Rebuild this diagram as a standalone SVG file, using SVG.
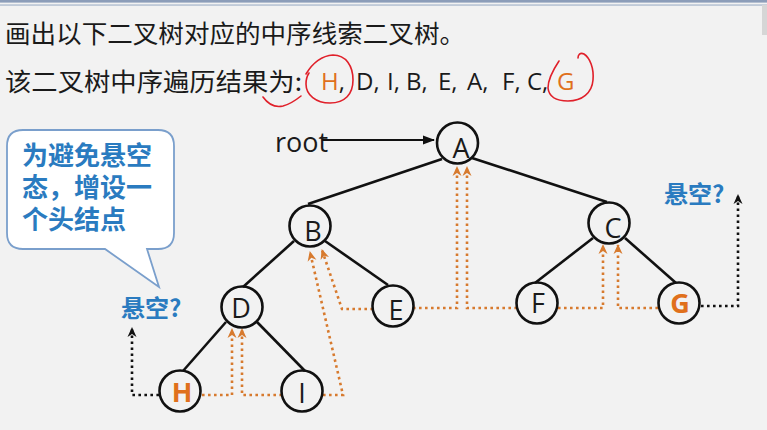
<svg xmlns="http://www.w3.org/2000/svg" width="767" height="430" viewBox="0 0 767 430">
<defs>
<style>
.cn{font-family:"Noto Sans CJK SC","Noto Sans",sans-serif;fill:#1a1a1a}
.lat{font-family:"Open Sans","Liberation Sans",sans-serif;fill:#1a1a1a}
.node circle{fill:none;stroke:#111;stroke-width:2.6}
.node text{font-family:"Open Sans","Liberation Sans",sans-serif;font-size:27px;fill:#1a1a1a;text-anchor:middle}
.node text.hl{fill:#e0701c;font-weight:bold}
.edge{stroke:#111;stroke-width:2.6;fill:none}
.thr{stroke:#d77a2e;stroke-width:2.6;stroke-dasharray:2.6 3.4;fill:none;marker-end:url(#ao)}
.nul{stroke:#111;stroke-width:2.6;stroke-dasharray:2.6 3.4;fill:none;marker-end:url(#ak)}
.blue{font-family:"Noto Sans CJK SC","Noto Sans",sans-serif;font-weight:bold;fill:#2a7bc0}
.red{stroke:#e0202a;stroke-width:1.6;fill:none;stroke-linecap:round}
</style>
<marker id="ao" markerUnits="userSpaceOnUse" markerWidth="10" markerHeight="10" refX="9" refY="5" orient="auto"><path d="M0,0.5 L10,5 L0,9.5 L3,5 Z" fill="#d77a2e"/></marker>
<marker id="ak" markerUnits="userSpaceOnUse" markerWidth="10" markerHeight="10" refX="9" refY="5" orient="auto"><path d="M0,0.5 L10,5 L0,9.5 L3,5 Z" fill="#111"/></marker>
<marker id="ar" markerUnits="userSpaceOnUse" markerWidth="12" markerHeight="10" refX="11" refY="5" orient="auto"><path d="M0,0.5 L12,5 L0,9.5 Z" fill="#111"/></marker>
</defs>
<rect x="0" y="0" width="767" height="430" fill="#f2f2f2"/>
<rect x="0" y="0" width="767" height="2.6" fill="#8c9db9"/>
<rect x="0" y="4.4" width="767" height="1.3" fill="#abb9ce"/>
<rect x="762" y="5" width="5" height="30" fill="#d6d6d6"/>

<g id="title">
<text class="cn" x="5" y="43" font-size="25" textLength="460" lengthAdjust="spacingAndGlyphs">画出以下二叉树对应的中序线索二叉树。</text>
</g>
<g id="sequence">
<text class="cn" x="5" y="91" font-size="25" textLength="297" lengthAdjust="spacingAndGlyphs">该二叉树中序遍历结果为:</text>
<text class="lat" y="90" font-size="24"><tspan x="321" fill="#e0701c">H</tspan><tspan>,</tspan><tspan x="356">D,</tspan><tspan x="387">I,</tspan><tspan x="406">B,</tspan><tspan x="438">E,</tspan><tspan x="467">A,</tspan><tspan x="502">F,</tspan><tspan x="527">C,</tspan><tspan x="557" fill="#e0701c">G</tspan></text>
</g>
<g id="annotations">
<path class="red" d="M306,74 C312,64 320,56 333,55 C346,55 353,66 353,80 C353,94 345,103 330,103 C316,103 306,95 306,84 C306,79 307,76 309,73"/>
<path class="red" d="M263,97 C268,104 274,108 283,106 C291,104 296,100 301,96"/>
<path class="red" d="M559,61 C553,70 548,80 548,88 C549,97 556,101 568,101 C582,101 592,93 593,80 C594,68 590,58 584,54 C580,52 578,55 578,58"/>
</g>

<g id="callout">
<path d="M23,130 H158 Q174,130 174,146 V233 Q174,249 158,249 H147 L159,287 L105,249 H23 Q7,249 7,233 V146 Q7,130 23,130 Z" fill="#ffffff" stroke="#7a9fcc" stroke-width="1.8"/>
<text class="blue" x="22" y="165" font-size="26">为避免悬空</text>
<text class="blue" x="22" y="197" font-size="26">态，增设一</text>
<text class="blue" x="22" y="229" font-size="26">个头结点</text>
</g>
<text class="blue" x="121" y="317" font-size="24">悬空?</text>
<text class="blue" x="664" y="203" font-size="24">悬空?</text>

<g id="root">
<text class="lat" x="275" y="152" font-size="27">root</text>
<line x1="322" y1="140" x2="434" y2="140" stroke="#111" stroke-width="2" marker-end="url(#ar)"/>
</g>

<g id="connectors">
<line class="edge" x1="442" y1="159" x2="308" y2="204"/>
<line class="edge" x1="472" y1="158" x2="607" y2="202"/>
<line class="edge" x1="294" y1="241" x2="243" y2="287"/>
<line class="edge" x1="325" y1="241" x2="388" y2="285"/>
<line class="edge" x1="226" y1="322" x2="183" y2="371"/>
<line class="edge" x1="257" y1="322" x2="305" y2="371"/>
<line class="edge" x1="593" y1="238" x2="535" y2="283"/>
<line class="edge" x1="625" y1="238" x2="676" y2="283"/>
<polyline class="thr" points="202,395 232,395 232,329"/>
<polyline class="thr" points="282,395 242,395 242,329"/>
<polyline class="thr" points="323,395 343,395 310,252"/>
<polyline class="thr" points="373,309 342,309 322,250"/>
<polyline class="thr" points="413,308 457,308 457,167"/>
<polyline class="thr" points="517,308 467,308 467,167"/>
<polyline class="thr" points="558,308 603,308 603,245"/>
<polyline class="thr" points="658,308 618,308 618,245"/>
<polyline class="nul" points="159,395 132,395 132,328"/>
<polyline class="nul" points="701,306 738,306 738,195"/>
</g>

<g id="node-A" class="node"><circle cx="457.5" cy="143" r="20.5"/><text x="461" y="158">A</text></g>
<g id="node-B" class="node"><circle cx="310" cy="226" r="20.5"/><text x="313" y="241">B</text></g>
<g id="node-C" class="node"><circle cx="609" cy="223" r="20.5"/><text x="613" y="238">C</text></g>
<g id="node-D" class="node"><circle cx="242" cy="307" r="20.5"/><text x="241" y="318">D</text></g>
<g id="node-E" class="node"><circle cx="393" cy="306" r="20.5"/><text x="396" y="320">E</text></g>
<g id="node-F" class="node"><circle cx="537" cy="303" r="20.5"/><text x="538" y="313">F</text></g>
<g id="node-G" class="node"><circle cx="679" cy="303" r="20.5"/><text class="hl" x="680" y="313">G</text></g>
<g id="node-H" class="node"><circle cx="180" cy="391" r="20.5"/><text class="hl" x="182" y="402">H</text></g>
<g id="node-I" class="node"><circle cx="302" cy="391" r="20.5"/><text x="302" y="403">I</text></g>
</svg>
